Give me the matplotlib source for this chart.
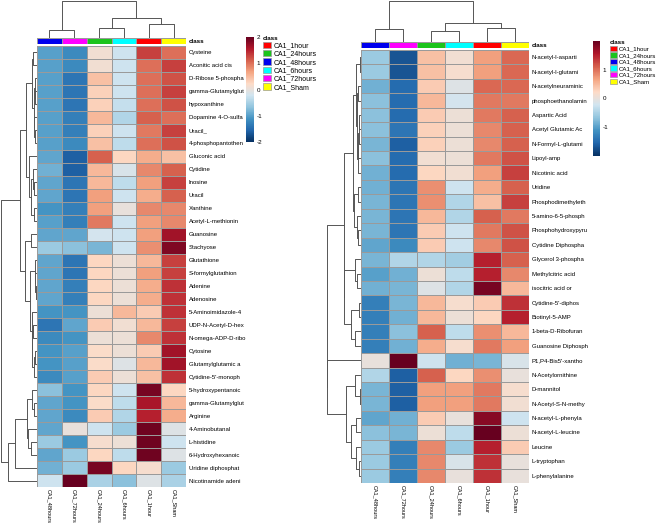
import numpy as np
import matplotlib
matplotlib.use("Agg")
import matplotlib.pyplot as plt
from matplotlib.colors import LinearSegmentedColormap, ListedColormap
from matplotlib.patches import Patch

plt.rcParams["font.family"] = ["Liberation Sans", "DejaVu Sans"]
plt.rcParams["axes.unicode_minus"] = False

groups = ["CA1_48hours", "CA1_72hours", "CA1_24hours", "CA1_6hours", "CA1_1hour", "CA1_Sham"]
group_colors = {"CA1_1hour": "#ff0000", "CA1_24hours": "#1cc41c", "CA1_48hours": "#0000ee",
                "CA1_6hours": "#00ffff", "CA1_72hours": "#ff00ff", "CA1_Sham": "#ffff00"}
legend_order = ["CA1_1hour", "CA1_24hours", "CA1_48hours", "CA1_6hours", "CA1_72hours", "CA1_Sham"]

left_rows = ["Cysteine", "Aconitic acid cis", "D-Ribose 5-phospha", "gamma-Glutamylglut", "hypoxanthine",
             "Dopamine 4-O-sulfa", "Uracil_", "4-phosphopantothen", "Gluconic acid", "Cytidine", "Inosine",
             "Uracil", "Xanthine", "Acetyl-L-methionin", "Guanosine", "Stachyose", "Glutathione",
             "S-formylglutathion", "Adenine", "Adenosine", "5-Aminoimidazole-4", "UDP-N-Acetyl-D-hex",
             "N-omega-ADP-D-ribo", "Cytosine", "Glutamylglutamic a", "Cytidine-5'-monoph",
             "5-hydroxypentanoic", "gamma-Glutamylglut", "Arginine", "4-Aminobutanal", "L-histidine",
             "6-Hydroxyhexanoic", "Uridine diphosphat", "Nicotinamide adeni"]
left_vals = np.array([
    [-1.0, -1.2, 0.1, -0.25, 1.3, 1.0],
    [-1.0, -1.2, 0.1, -0.25, 1.0, 1.3],
    [-1.0, -1.4, 0.45, -0.25, 1.0, 1.2],
    [-1.0, -1.4, 0.3, -0.25, 1.0, 1.3],
    [-1.0, -1.4, 0.3, -0.3, 1.0, 1.2],
    [-1.0, -1.3, 0.5, -0.45, 1.1, 1.0],
    [-1.0, -1.3, 0.3, -0.25, 0.95, 1.3],
    [-1.0, -1.2, 0.45, -0.35, 1.0, 1.2],
    [-0.95, -1.6, 1.1, 0.25, 0.6, 0.45],
    [-0.85, -1.6, 0.5, -0.15, 0.85, 1.1],
    [-0.95, -1.4, 0.5, -0.35, 0.7, 1.3],
    [-0.95, -1.4, 0.7, -0.25, 0.6, 1.1],
    [-1.1, -1.3, 0.7, 0.0, 0.85, 0.85],
    [-1.0, -1.3, 0.95, -0.25, 0.7, 0.85],
    [-0.95, -0.95, -0.2, -0.25, 0.7, 1.65],
    [-0.6, -0.7, -0.8, -0.25, 0.8, 1.85],
    [-0.95, -1.4, 0.25, 0.05, 0.5, 1.3],
    [-0.95, -1.4, 0.25, 0.05, 0.7, 1.3],
    [-0.95, -1.3, 0.25, 0.05, 0.6, 1.4],
    [-0.95, -1.3, 0.25, 0.05, 0.6, 1.4],
    [-1.1, -1.1, 0.05, 0.5, 0.35, 1.4],
    [-1.4, -0.95, 0.35, 0.1, 0.5, 1.3],
    [-1.2, -1.1, 0.05, 0.05, 0.85, 1.4],
    [-1.1, -1.0, 0.2, 0.05, 0.35, 1.65],
    [-1.1, -1.0, 0.2, -0.1, 0.5, 1.65],
    [-1.2, -1.0, 0.35, 0.05, 0.45, 1.4],
    [-0.7, -1.1, 0.25, -0.25, 1.9, 0.25],
    [-0.95, -1.1, 0.2, -0.35, 1.6, 0.5],
    [-0.95, -1.2, 0.35, -0.45, 1.5, 0.6],
    [-0.95, 0.0, -0.25, -0.6, 1.95, -0.1],
    [-0.6, -1.1, 0.15, 0.05, 1.95, -0.25],
    [-0.95, -0.6, 0.25, -0.35, 1.95, -0.1],
    [-0.85, -0.6, 1.9, 0.25, 0.15, -0.6],
    [-0.25, 2.0, -0.5, -0.7, -0.1, -0.5],
])

right_rows = ["N-acetyl-l-asparti", "N-acetyl-l-glutami", "N-acetylneuraminic", "phosphoethanolamin",
              "Aspartic Acid", "Acetyl Glutamic Ac", "N-Formyl-L-glutami", "Lipoyl-amp", "Nicotinic acid",
              "Uridine", "Phosphodimethyleth", "5-amino-6-5-phosph", "Phosphohydroxypyru",
              "Cytidine Diphospha", "Glycerol 3-phospha", "Methylcitric acid", "isocitric acid or",
              "Cytidine-5'-diphos", "Biotinyl-5-AMP", "1-beta-D-Ribofuran", "Guanosine Diphosph",
              "P1,P4-Bis5'-xantho", "N-Acetylornithine", "D-mannitol", "N-Acetyl-S-N-methy",
              "N-acetyl-L-phenyla", "N-acetyl-L-leucine", "Leucine", "L-tryptophan", "L-phenylalanine"]
right_vals = np.array([
    [-0.6, -1.7, 0.45, 0.1, 0.7, 1.05],
    [-0.6, -1.7, 0.45, 0.15, 0.7, 1.05],
    [-0.85, -1.5, 0.35, -0.1, 1.05, 1.05],
    [-0.7, -1.5, 0.5, -0.2, 0.95, 0.95],
    [-0.7, -1.5, 0.35, 0.05, 0.95, 1.1],
    [-0.7, -1.4, 0.3, 0.05, 0.85, 1.1],
    [-0.8, -1.6, 0.3, 0.05, 0.85, 1.1],
    [-0.7, -1.5, 0.1, 0.05, 0.95, 1.2],
    [-0.85, -1.5, 0.25, 0.1, 0.7, 1.3],
    [-0.85, -1.4, 0.8, -0.25, 0.6, 1.1],
    [-0.8, -1.4, 0.8, -0.45, 0.45, 1.3],
    [-0.8, -1.4, 0.5, -0.45, 1.1, 0.95],
    [-0.8, -1.4, 0.35, -0.25, 0.95, 1.2],
    [-0.95, -1.2, 0.35, -0.25, 0.85, 1.2],
    [-0.8, -0.45, -0.45, -0.55, 1.5, 1.1],
    [-1.0, -0.85, 0.05, -0.35, 1.5, 0.85],
    [-0.85, -0.8, -0.1, -0.45, 1.9, 0.5],
    [-1.3, -0.8, 0.5, 0.15, 0.35, 1.4],
    [-1.3, -0.85, 0.5, 0.05, 0.25, 1.5],
    [-1.3, -0.7, 1.1, -0.35, 0.8, 0.5],
    [-1.3, -0.85, 0.6, 0.15, 0.95, 0.7],
    [0.0, 2.0, -0.25, -0.85, -0.8, -0.15],
    [-0.45, -1.6, 1.1, 0.25, 0.8, 0.0],
    [-0.8, -1.6, 0.7, 0.7, 0.95, 0.15],
    [-0.8, -1.6, 0.7, 0.7, 0.95, 0.1],
    [-0.95, -0.85, 0.35, 0.0, 1.8, -0.25],
    [-0.7, -0.8, 0.05, -0.35, 2.0, 0.05],
    [-0.6, -1.3, 0.85, -0.6, 1.5, 0.35],
    [-0.6, -1.3, 0.85, -0.15, 1.4, 0.0],
    [-0.6, -1.3, 0.85, 0.0, 1.4, 0.0],
])

W, H = 658, 524
cmap = LinearSegmentedColormap.from_list("rdbu10", ["#053061", "#2166AC", "#4393C3", "#92C5DE", "#D1E5F0",
                                                    "#FDDBC7", "#F4A582", "#D6604D", "#B2182B", "#67001F"])
line_col = "#555555"
grid_col = "#9a9a9a"


def box(x0, y0, x1, y1):
    return [x0 / W, 1 - y1 / H, (x1 - x0) / W, (y1 - y0) / H]


def ward_tree(X):
    # ward merging, only between neighbours so the displayed leaf order is kept
    clusters = [dict(idx=[i], pos=i + 0.5, h=0.0) for i in range(len(X))]
    links = []
    while len(clusters) > 1:
        best = None
        for k in range(len(clusters) - 1):
            a, b = clusters[k], clusters[k + 1]
            na, nb = len(a["idx"]), len(b["idx"])
            d = np.sqrt(2 * na * nb / (na + nb)) * np.linalg.norm(X[a["idx"]].mean(0) - X[b["idx"]].mean(0))
            if best is None or d < best[0]:
                best = (d, k)
        d, k = best
        a, b = clusters[k], clusters[k + 1]
        h = max(d, a["h"], b["h"])
        links.append((a["pos"], a["h"], b["pos"], b["h"], h))
        clusters[k:k + 2] = [dict(idx=a["idx"] + b["idx"], pos=(a["pos"] + b["pos"]) / 2, h=h)]
    return links


def panel(fig, rows, vals, hm, rowd, cold, cbar_box, ticks, leg_xy, leg_size):
    n = len(rows)
    x0, y0, x1, y1 = hm

    ax = fig.add_axes(box(*hm))
    mesh = ax.pcolormesh(vals, cmap=cmap, vmin=-2, vmax=2, edgecolors=grid_col, linewidth=0.5)
    ax.set_xlim(0, 6)
    ax.set_ylim(n, 0)
    for s in ax.spines.values():
        s.set_visible(False)
    ax.yaxis.tick_right()
    ax.set_yticks(np.arange(n) + 0.5)
    ax.set_yticklabels(rows, fontsize=4.3)
    ax.set_xticks(np.arange(6) + 0.5)
    ax.set_xticklabels(groups, rotation=270, fontsize=4.0)
    ax.tick_params(axis="y", length=0, pad=2)
    ax.tick_params(axis="x", length=0, pad=1.5)

    # class bar
    axc = fig.add_axes(box(x0, cold[3] + 1, x1, y0 - 2))
    axc.pcolormesh(np.arange(6).reshape(1, -1), cmap=ListedColormap([group_colors[g] for g in groups]),
                   edgecolors=grid_col, linewidth=0.5)
    axc.set_xlim(0, 6)
    axc.set_xticks([])
    axc.yaxis.tick_right()
    axc.set_yticks([0.5])
    axc.set_yticklabels(["class"], fontsize=4.5, fontweight="bold")
    axc.tick_params(length=0, pad=2)
    for s in axc.spines.values():
        s.set_visible(False)

    # row dendrogram
    axr = fig.add_axes(box(*rowd))
    links = ward_tree(vals)
    for pa, ha, pb, hb, h in links:
        axr.plot([ha, h, h, hb], [pa, pa, pb, pb], color=line_col, lw=0.7, clip_on=False)
    axr.set_xlim(max(l[4] for l in links), 0)
    axr.set_ylim(n, 0)
    axr.axis("off")

    # column dendrogram
    axd = fig.add_axes(box(*cold))
    links = ward_tree(vals.T)
    for pa, ha, pb, hb, h in links:
        axd.plot([pa, pa, pb, pb], [ha, h, h, hb], color=line_col, lw=0.7, clip_on=False)
    axd.set_xlim(0, 6)
    axd.set_ylim(0, max(l[4] for l in links))
    axd.axis("off")

    cax = fig.add_axes(box(*cbar_box))
    cb = fig.colorbar(mesh, cax=cax, ticks=ticks)
    cb.outline.set_visible(False)
    cax.tick_params(length=0, labelsize=4.5, pad=2)

    handles = [Patch(facecolor=group_colors[g], edgecolor=grid_col, linewidth=0.5) for g in legend_order]
    fig.legend(handles, legend_order, loc="upper left", bbox_to_anchor=(leg_xy[0] / W, 1 - leg_xy[1] / H),
               title="class", title_fontproperties={"weight": "bold", "size": 4.5}, alignment="left",
               frameon=False, fontsize=leg_size, handlelength=1.1, handleheight=1.0, handletextpad=0.4,
               labelspacing=0.12, borderpad=0, borderaxespad=0)


fig = plt.figure(figsize=(W / 100, H / 100), dpi=100)
panel(fig, left_rows, left_vals, (37, 46, 186, 487), (1, 46, 36, 487), (37, 1, 186, 37),
      (246, 37, 254, 142), [-2, -1, 0, 1, 2], (263, 36), 5)
panel(fig, right_rows, right_vals, (361, 50, 529, 483), (327, 50, 360, 483), (361, 1, 529, 41),
      (593, 41, 600, 156), [-1, 0, 1], (610, 40), 4.4)
fig.savefig("out.png", dpi=100)
